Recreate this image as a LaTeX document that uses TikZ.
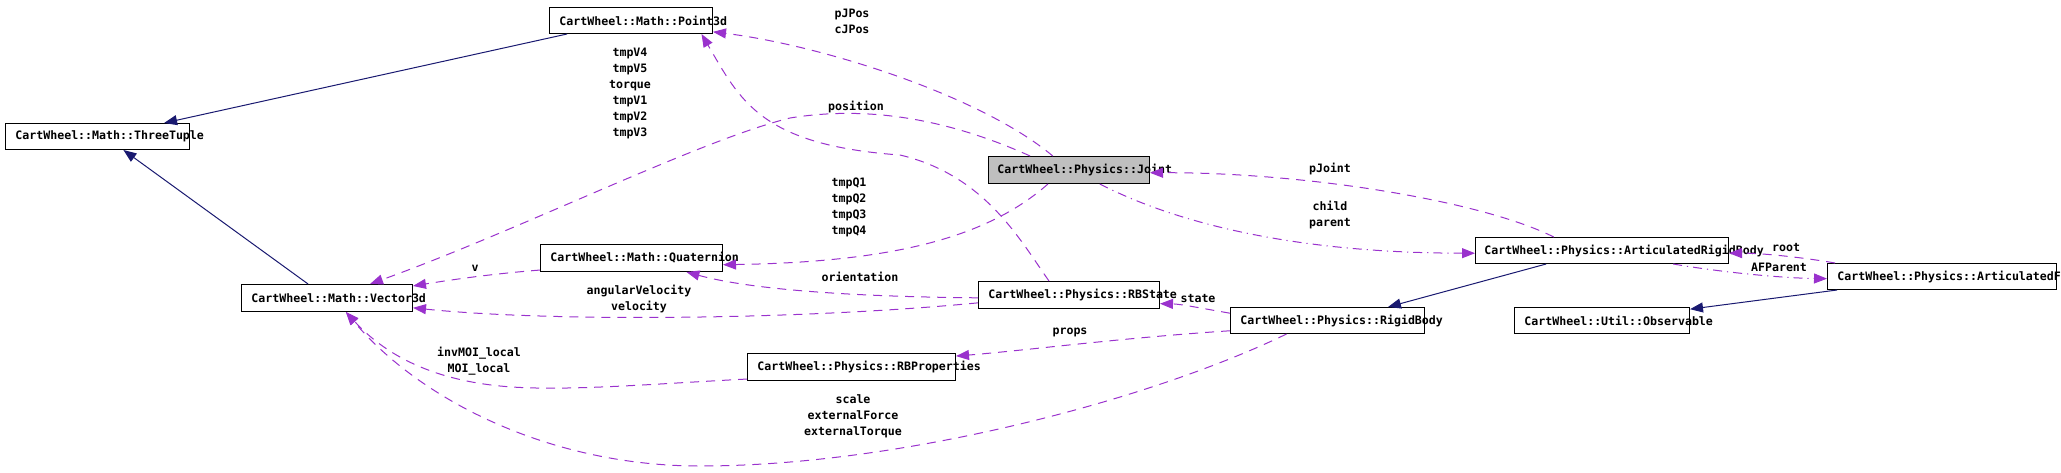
\documentclass[tikz,border=0pt]{standalone}
\usepackage{fontspec}
\newfontfamily\dmono{DejaVu Sans Mono}
\usetikzlibrary{calc,arrows.meta}
\definecolor{inh}{HTML}{191970}
\definecolor{use}{HTML}{9A32CD}
\definecolor{hl}{HTML}{BFBFBF}
\tikzset{
  cls/.style={draw=black, line width=0.5pt, rectangle, minimum height=13pt, inner sep=0pt, anchor=north west},
  ctext/.style={font={\dmono\bfseries\fontsize{5.8pt}{8pt}\selectfont}, inner sep=0pt, anchor=west},
  elbl/.style={font={\dmono\bfseries\fontsize{5.8pt}{8pt}\selectfont}, inner sep=0pt, align=center},
  inhE/.style={draw=inh, line width=0.5pt, -{Triangle[length=6.5pt,width=5pt]}},
  useE/.style={draw=use, line width=0.5pt, dash pattern=on 4.5pt off 3.5pt, -{Triangle[length=6.5pt,width=5pt]}},
  dotE/.style={useE, dash pattern=on 4.5pt off 2.5pt on 0.6pt off 2.5pt},
}
\begin{document}
\begin{tikzpicture}[x=0.5pt,y=-0.5pt]
\useasboundingbox (0,0) rectangle (2061,472);
% classes
\node[cls, minimum width=81.5pt] (p3d) at (549,7) {};
\node[ctext] (p3dT) at ([xshift=5pt]p3d.west) {CartWheel::Math::Point3d};
\node[cls, minimum width=92pt] (tt) at (5,123) {};
\node[ctext] (ttT) at ([xshift=5pt]tt.west) {CartWheel::Math::ThreeTuple};
\node[cls, minimum width=85.5pt, minimum height=13.5pt] (v3d) at (241,284) {};
\node[ctext] (v3dT) at ([xshift=5pt]v3d.west) {CartWheel::Math::Vector3d};
\node[cls, minimum width=91pt, minimum height=13.5pt] (quat) at (540,244) {};
\node[ctext] (quatT) at ([xshift=5pt]quat.west) {CartWheel::Math::Quaternion};
\node[cls, fill=hl, minimum width=80.5pt, minimum height=13.5pt] (joint) at (988,156) {};
\node[ctext] (jointT) at ([xshift=4.5pt]joint.west) {CartWheel::Physics::Joint};
\node[cls, minimum width=90.5pt, minimum height=13.5pt] (rbs) at (978,281) {};
\node[ctext] (rbsT) at ([xshift=5pt]rbs.west) {CartWheel::Physics::RBState};
\node[cls, minimum width=97pt] (rb) at (1230,307) {};
\node[ctext] (rbT) at ([xshift=5pt]rb.west) {CartWheel::Physics::RigidBody};
\node[cls, minimum width=104pt, minimum height=13.5pt] (rbp) at (747,353) {};
\node[ctext] (rbpT) at ([xshift=5pt]rbp.west) {CartWheel::Physics::RBProperties};
\node[cls, minimum width=126.5pt] (arb) at (1475,237) {};
\node[ctext] (arbT) at ([xshift=4.5pt]arb.west) {CartWheel::Physics::ArticulatedRigidBody};
\node[cls, minimum width=87.5pt] (obs) at (1514,307) {};
\node[ctext] (obsT) at ([xshift=5pt]obs.west) {CartWheel::Util::Observable};
\node[cls, minimum width=114.5pt] (af) at (1827,263) {};
\node[ctext] (afT) at ([xshift=5pt]af.west) {CartWheel::Physics::ArticulatedF};
% inheritance
\draw[inhE] ($(p3d.south west)!0.11!(p3d.south east)$) -- ($(tt.north west)!0.86!(tt.north east)$);
\draw[inhE] ($(v3d.north west)!0.39!(v3d.north east)$) -- ($(tt.south west)!0.64!(tt.south east)$);
\draw[inhE] ($(arb.south west)!0.28!(arb.south east)$) -- ($(rb.north west)!0.81!(rb.north east)$);
\draw[inhE] ($(af.south west)!0.044!(af.south east)$) -- ($(obs.north east)!0.08!(obs.south east)$);
% usage
\draw[useE] ($(joint.north west)!0.40!(joint.north east)$) .. controls (980,95) and (820,45) .. ($(p3d.north east)!0.92!(p3d.south east)$);
\draw[useE] ($(joint.north west)!0.26!(joint.north east)$) .. controls (950,120) and (870,105) .. (790,118) .. controls (700,140) and (520,230) .. ($(v3d.north west)!0.75!(v3d.north east)$);
\draw[useE] ($(rbs.north west)!0.39!(rbs.north east)$) .. controls (1020,240) and (985,175) .. (900,155) .. controls (760,145) and (740,100) .. ($(p3d.south west)!0.93!(p3d.south east)$);
\draw[useE] ($(joint.south west)!0.37!(joint.south east)$) .. controls (990,235) and (900,262) .. ($(quat.north east)!0.74!(quat.south east)$);
\draw[dotE] ($(joint.south west)!0.69!(joint.south east)$) .. controls (1180,225) and (1300,253) .. ($(arb.north west)!0.6!(arb.south west)$);
\draw[useE] ($(arb.north west)!0.31!(arb.north east)$) .. controls (1480,200) and (1300,172) .. ($(joint.north east)!0.6!(joint.south east)$);
\draw[useE] ($(rbs.north west)!0.6!(rbs.south west)$) .. controls (880,297) and (760,292) .. ($(quat.south west)!0.8!(quat.south east)$);
\draw[useE] ($(rbs.north west)!0.78!(rbs.south west)$) .. controls (800,320) and (550,322) .. ($(v3d.north east)!0.85!(v3d.south east)$);
\draw[useE] ($(quat.north west)!0.93!(quat.south west)$) .. controls (490,274) and (450,280) .. ($(v3d.north east)!0.07!(v3d.south east)$);
\draw[useE] ($(rb.north west)!0.23!(rb.south west)$) .. controls (1200,308) and (1180,304) .. ($(rbs.north east)!0.81!(rbs.south east)$);
\draw[useE] ($(rb.north west)!0.88!(rb.south west)$) .. controls (1120,338) and (1030,350) .. ($(rbp.north east)!0.11!(rbp.south east)$);
\draw[useE] ($(rb.south west)!0.29!(rb.south east)$) .. controls (1150,400) and (900,466) .. (700,466) .. controls (550,466) and (420,400) .. ($(v3d.south west)!0.61!(v3d.south east)$);
\draw[useE] ($(rbp.north west)!0.93!(rbp.south west)$) .. controls (650,384) and (560,392) .. (500,386) .. controls (440,380) and (390,360) .. ($(v3d.south west)!0.61!(v3d.south east)$);
\draw[useE] ($(af.north west)!0.035!(af.north east)$) .. controls (1800,257) and (1760,253) .. ($(arb.north east)!0.6!(arb.south east)$);
\draw[dotE] ($(arb.south west)!0.78!(arb.south east)$) .. controls (1720,272) and (1780,278) .. ($(af.north west)!0.58!(af.south west)$);
% labels
\node[elbl] (l1) at (852,21) {pJPos\\cJPos};
\node[elbl] (l2) at (630,93) {tmpV4\\tmpV5\\torque\\tmpV1\\tmpV2\\tmpV3};
\node[elbl] (l3) at (856,107) {position};
\node[elbl] (l4) at (849,207) {tmpQ1\\tmpQ2\\tmpQ3\\tmpQ4};
\node[elbl] (l5) at (1330,169) {pJoint};
\node[elbl] (l6) at (1330,215) {child\\parent};
\node[elbl] (l7) at (475,268) {v};
\node[elbl] (l8) at (860,277) {orientation};
\node[elbl] (l9) at (639,299) {angularVelocity\\velocity};
\node[elbl] (l10) at (1198,299) {state};
\node[elbl] (l11) at (1070,332) {props};
\node[elbl] (l12) at (1786,248) {root};
\node[elbl] (l13) at (1779,267) {AFParent};
\node[elbl] (l14) at (479,361) {invMOI\_local\\MOI\_local};
\node[elbl] (l15) at (853,416) {scale\\externalForce\\externalTorque};
\end{tikzpicture}
\end{document}
